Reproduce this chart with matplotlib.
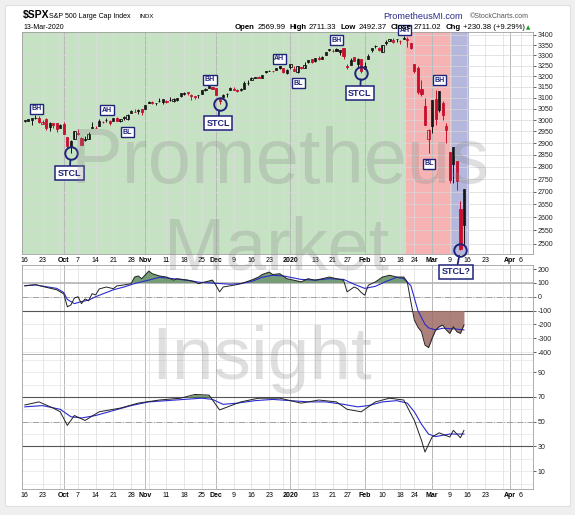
import numpy as np
import pandas as pd
import matplotlib
matplotlib.use("Agg")
import matplotlib.pyplot as plt
from matplotlib.patches import Rectangle
from matplotlib.ticker import NullLocator

plt.rcParams['font.family'] = ['Liberation Sans', 'DejaVu Sans']

# ---------------- data ----------------
start_date = '2019-09-16'
holidays = ['2019-11-28', '2019-12-25', '2020-01-01', '2020-01-20', '2020-02-17', '2020-04-10']

opens = [
    2996.41, 2995.67, 3001.50, 3010.36, 3008.42, 2983.50, 3002.43, 2968.35, 2985.73, 2985.47, 2967.07,
    2983.69, 2924.78, 2885.38, 2918.56, 2944.23, 2920.40, 2911.10, 2918.55, 2963.07, 2965.81, 2973.61, 2989.68,
    3000.77, 2996.84, 2996.48, 3010.73, 2994.01, 3014.78, 3003.32, 3032.12, 3035.39, 3039.74, 3046.90,
    3050.72, 3078.96, 3080.80, 3075.10, 3087.02, 3081.25, 3080.33, 3089.28, 3084.18, 3090.75, 3107.92, 3117.91,
    3127.45, 3114.66, 3108.49, 3111.41, 3117.44, 3134.85, 3145.49, 3147.18,
    3143.85, 3087.41, 3103.50, 3119.21, 3134.62, 3141.86, 3135.36, 3135.75, 3141.23, 3166.65, 3183.63, 3195.40,
    3195.21, 3192.32, 3223.33, 3226.05, 3225.45, 3227.20, 3247.23, 3240.09, 3215.18,
    3244.67, 3226.36, 3217.55, 3241.86, 3238.59, 3266.03, 3281.81, 3271.13, 3285.35, 3282.27, 3302.97, 3323.66,
    3321.03, 3330.02, 3315.77, 3333.10, 3247.16, 3255.35, 3289.46, 3256.45, 3282.33,
    3235.66, 3280.61, 3324.91, 3344.92, 3335.54, 3318.28, 3365.87, 3370.50, 3365.90, 3378.08, 3369.04, 3380.39,
    3380.39, 3360.50, 3257.61, 3238.94, 3139.90, 3062.54, 2916.90,
    2974.28, 3096.46, 3045.75, 3075.70, 2954.20, 2863.89, 2813.48, 2825.60, 2630.86, 2569.99]
highs = [
    3002.19, 3006.21, 3007.83, 3021.19, 3016.37, 2999.15, 3007.98, 2989.82, 2987.28, 2987.31, 2983.85,
    2992.53, 2924.78, 2911.13, 2953.74, 2959.75, 2925.47, 2929.32, 2948.46, 2993.28, 2972.84, 3003.28, 2997.54,
    3008.29, 3000.00, 3007.33, 3014.57, 3004.78, 3016.07, 3027.39, 3044.08, 3047.87, 3050.10, 3046.90,
    3066.95, 3085.20, 3083.95, 3078.34, 3097.77, 3093.09, 3088.33, 3102.61, 3098.06, 3098.20, 3120.46, 3124.17,
    3127.64, 3118.97, 3110.11, 3112.87, 3133.83, 3142.69, 3154.26, 3150.30,
    3144.31, 3094.97, 3119.38, 3119.45, 3150.60, 3148.87, 3142.12, 3143.98, 3176.28, 3182.68, 3197.71, 3198.22,
    3198.48, 3205.48, 3225.65, 3227.78, 3226.43, 3240.08, 3247.93, 3240.92, 3231.72,
    3258.14, 3246.15, 3246.84, 3244.91, 3267.07, 3275.58, 3282.99, 3288.13, 3294.25, 3298.66, 3317.11, 3329.88,
    3329.79, 3337.77, 3326.88, 3333.18, 3258.85, 3285.78, 3293.47, 3285.91, 3282.33,
    3268.44, 3306.92, 3337.58, 3347.96, 3341.42, 3352.26, 3375.63, 3381.47, 3385.09, 3380.69, 3375.01, 3393.52,
    3389.15, 3360.76, 3259.81, 3246.99, 3182.51, 3097.07, 2959.72,
    3090.96, 3136.72, 3130.97, 3083.04, 2985.93, 2863.89, 2882.59, 2825.60, 2660.95, 2711.33]
lows = [
    2990.67, 2993.73, 2978.57, 3003.16, 2984.68, 2982.23, 2957.73, 2952.86, 2963.71, 2945.53, 2967.07,
    2938.70, 2874.93, 2855.94, 2918.56, 2935.68, 2892.66, 2907.41, 2917.12, 2963.07, 2962.94, 2973.61, 2985.20,
    2991.79, 2976.31, 2995.35, 2995.04, 2991.21, 3000.42, 3001.94, 3032.12, 3034.81, 3025.96, 3023.19,
    3050.72, 3074.87, 3072.15, 3065.89, 3080.23, 3073.58, 3075.82, 3084.73, 3078.80, 3083.26, 3104.60, 3112.06,
    3113.47, 3091.41, 3094.55, 3099.26, 3117.44, 3131.00, 3143.41, 3139.34,
    3110.78, 3070.33, 3102.53, 3103.76, 3134.62, 3135.46, 3126.09, 3133.21, 3138.47, 3156.51, 3183.63, 3191.03,
    3191.14, 3192.32, 3216.03, 3222.30, 3220.51, 3227.20, 3234.37, 3216.57, 3212.03,
    3235.53, 3222.34, 3214.64, 3232.43, 3236.67, 3263.67, 3260.86, 3268.43, 3277.19, 3280.69, 3302.82, 3318.86,
    3316.61, 3320.04, 3301.87, 3281.53, 3234.50, 3253.22, 3271.89, 3242.80, 3214.68,
    3235.66, 3280.61, 3313.75, 3334.39, 3322.12, 3317.77, 3352.72, 3369.72, 3360.52, 3366.15, 3355.61, 3378.83,
    3341.02, 3328.45, 3214.65, 3118.77, 3108.99, 2977.39, 2855.84,
    2945.19, 2976.63, 3034.38, 2999.83, 2901.54, 2734.43, 2734.00, 2707.22, 2478.86, 2492.37]
closes = [
    2997.96, 3005.70, 3006.73, 3006.79, 2992.07, 2991.78, 2966.60, 2984.87, 2977.62, 2961.79, 2976.74,
    2940.25, 2887.61, 2910.63, 2952.01, 2938.79, 2893.06, 2919.40, 2938.13, 2970.27, 2966.15, 2995.68, 2989.69,
    2997.95, 2986.20, 3006.72, 2995.99, 3004.52, 3010.29, 3022.55, 3039.42, 3036.89, 3046.77, 3037.56,
    3066.91, 3078.27, 3074.62, 3076.78, 3085.18, 3093.08, 3087.01, 3091.84, 3094.04, 3096.63, 3120.46, 3122.03,
    3120.18, 3108.46, 3103.54, 3110.29, 3133.64, 3140.52, 3153.63, 3140.98,
    3113.87, 3093.20, 3112.76, 3117.43, 3145.91, 3135.96, 3132.52, 3141.63, 3168.57, 3168.80, 3191.45, 3192.52,
    3191.14, 3205.37, 3221.22, 3224.01, 3223.38, 3239.91, 3240.02, 3221.29, 3230.78,
    3257.85, 3234.85, 3246.28, 3237.18, 3253.05, 3274.70, 3265.35, 3288.13, 3283.15, 3289.29, 3316.81, 3329.62,
    3320.79, 3321.75, 3325.54, 3295.47, 3243.63, 3276.24, 3273.40, 3283.66, 3225.52,
    3248.92, 3297.59, 3334.69, 3345.78, 3327.71, 3352.09, 3357.75, 3379.45, 3373.94, 3380.16, 3370.29, 3386.15,
    3373.23, 3337.75, 3225.89, 3128.21, 3116.39, 2978.76, 2954.22,
    3090.23, 3003.37, 3130.12, 3023.94, 2972.37, 2746.56, 2882.23, 2741.38, 2480.64, 2711.02]

# CCI panel (black line and its blue signal): (trading-day index, value)
cci_idx = [0, 3, 6, 9, 11, 12, 13, 14, 15, 16, 17, 18, 19, 20, 21, 23, 25, 26, 28, 30, 31, 32, 33, 35, 36,
           38, 40, 42, 43, 46, 48, 49, 51, 53, 54, 55, 56, 59, 61, 64, 66, 67, 69, 70, 72, 74, 76, 78, 80,
           82, 84, 86, 88, 90, 91, 93, 94, 95, 96, 97, 99, 101, 103, 105, 107, 108, 109, 110, 111, 112, 113,
           114, 115, 116, 117, 118, 119, 120, 121, 122, 123, 124]
cci_val = [78, 87, 68, 50, 20, -73, -60, -10, 0, -50, -16, -30, 22, 13, 56, 70, 58, 78, 85, 94, 142, 150, 130,
           185, 166, 150, 142, 120, 130, 120, 107, 94, 107, 120, 80, 35, 70, 83, 94, 120, 142, 160, 178, 160,
           166, 130, 119, 107, 130, 119, 130, 142, 130, 119, 35, 70, 58, 30, 11, 83, 107, 142, 155, 142, 142,
           107, -37, -169, -220, -253, -349, -368, -301, -241, -217, -205, -240, -265, -217, -253, -265, -205]
cci_sig_idx = [0, 3, 9, 11, 12, 14, 16, 18, 20, 23, 25, 28, 31, 35, 38, 42, 47, 49, 52, 55, 58, 61, 64, 67,
               70, 73, 78, 82, 86, 90, 93, 96, 99, 102, 105, 107, 109, 111, 113, 114, 116, 118, 121, 124]
cci_sig_val = [80, 85, 60, 30, -20, -50, -35, -25, 0, 30, 50, 70, 95, 120, 140, 130, 115, 105, 100, 95, 90,
               95, 110, 140, 155, 150, 125, 120, 130, 125, 90, 60, 75, 110, 140, 130, 80, -100, -200, -225,
               -240, -228, -232, -240]

# lower oscillator panel
osc_idx = [0, 4, 8, 10, 12, 14, 17, 21, 27, 32, 38, 44, 48, 52, 55, 61, 66, 72, 78, 83, 88, 91, 95, 99, 103,
           107, 110, 112, 113, 115, 117, 120, 121, 123, 124]
osc_val = [63.5, 66, 61, 58, 47, 55, 51, 58, 61, 65, 67.5, 69, 72, 71.5, 59.5, 66, 69, 69, 65, 67.5, 66,
           60, 58, 66, 69, 67.5, 51, 35, 25.5, 37.6, 41, 37.6, 43, 37, 43]
osc_sig_idx = [0, 5, 10, 13, 16, 20, 25, 30, 35, 40, 45, 50, 53, 56, 60, 65, 70, 75, 80, 85, 90, 94, 97, 101,
               105, 108, 110, 112, 114, 116, 118, 120, 122, 124]
osc_sig_val = [62, 63, 60, 54, 53, 55, 59, 63, 66, 67, 68, 69, 68, 64, 65, 67, 68, 67, 66, 66, 64, 62, 63,
               66, 67, 65, 58, 48, 40, 38, 39, 40, 40, 40]

tick_dates = ['2019-09-16', '2019-09-23', '2019-10-01', '2019-10-07', '2019-10-14', '2019-10-21', '2019-10-28',
              '2019-11-01', '2019-11-11', '2019-11-18', '2019-11-25', '2019-12-02', '2019-12-09', '2019-12-16',
              '2019-12-23', '2020-01-02', '2020-01-13', '2020-01-21', '2020-01-27', '2020-02-03', '2020-02-10',
              '2020-02-18', '2020-02-24', '2020-03-02', '2020-03-09', '2020-03-16', '2020-03-23', '2020-04-01',
              '2020-04-06']
tick_labels = ['16', '23', 'Oct', '7', '14', '21', '28', 'Nov', '11', '18', '25', 'Dec', '9', '16', '23', '2020',
               '13', '21', '27', 'Feb', '10', '18', '24', 'Mar', '9', '16', '23', 'Apr', '6']
month_labels = {'Oct', 'Nov', 'Dec', '2020', 'Feb', 'Mar', 'Apr'}

price_ticks = list(range(2500, 3401, 50))
cci_ticks = [200, 100, 0, -100, -200, -300, -400]
osc_ticks = [90, 70, 50, 30, 10]

header_items = [('Open', True), ('2569.99', False), ('High', True), ('2711.33', False),
                ('Low', True), ('2492.37', False), ('Close', True), ('2711.02', False),
                ('Chg', True), ('+230.38 (+9.29%)', False)]

# annotations: (label, trading-day index, price)
tags = [('BH', 3.2, 3051), ('AH', 23.2, 3043), ('BL', 29.0, 2946), ('BH', 52.3, 3184), ('AH', 71.8, 3283),
        ('BL', 77.3, 3167), ('BH', 88.1, 3373), ('AH', 107.2, 3423), ('BH', 117.1, 3181), ('BL', 114.1, 2813)]
stcl = [('STCL', 13, 2855.94), ('STCL', 55, 3070.33), ('STCL', 95, 3214.68), ('STCL?', 123, 2478.86)]
stcl_off = [(-1, -14.4), (-1, -13.7), (-1, -14.4), (-3, -15.8)]

# ---------------- layout ----------------
W, H = 575, 515
cal = pd.offsets.CustomBusinessDay(holidays=holidays)
days = pd.date_range(start_date, '2020-04-20', freq=cal)
pos = {d.strftime('%Y-%m-%d'): i for i, d in enumerate(days)}
n = len(closes)
x = np.arange(n)

navy = '#1f247a'
fig = plt.figure(figsize=(W / 100, H / 100), dpi=100, facecolor='#efefef')
fig.patches.append(Rectangle((5 / W, 1 - 506 / H), 565 / W, 501 / H, transform=fig.transFigure,
                             facecolor='white', edgecolor='#e0e0e0', lw=0.8, zorder=-10))


def axrect(top, bottom):
    return [22 / W, 1 - bottom / H, 511 / W, (bottom - top) / H]


axp = fig.add_axes(axrect(32, 254))
axc = fig.add_axes(axrect(265, 354), sharex=axp)
axr = fig.add_axes(axrect(354, 489), sharex=axp)
axp.set_zorder(3)
axc.set_zorder(1)
axr.set_zorder(1)

xl = (-0.8, 143.5)
tick_pos = [pos[d] for d in tick_dates]

week_starts, month_starts = [], []
for i, d in enumerate(days):
    if i == 0:
        continue
    if d.weekday() < days[i - 1].weekday():
        week_starts.append(i)
    if d.month != days[i - 1].month:
        month_starts.append(i)

for ax in (axp, axc, axr):
    ax.set_xlim(*xl)
    ax.yaxis.tick_right()
    ax.tick_params(axis='y', labelsize=5, length=2, width=0.5, colors='#222222', pad=1.5)
    ax.tick_params(axis='x', length=0, labelsize=5, pad=2)
    for s in ax.spines.values():
        s.set_color('#a0a0a0')
        s.set_linewidth(0.6)
    for w in week_starts:
        ax.axvline(w, color='#dcdcdc', lw=0.5, zorder=1)
    for m in month_starts:
        ax.axvline(m, color='#b8b8b8', lw=0.7, zorder=1)

# ---- price panel ----
axp.set_yscale('log')
axp.set_ylim(2463, 3415)
axp.yaxis.set_minor_locator(NullLocator())
axp.set_yticks(price_ticks)
axp.set_yticklabels([str(t) for t in price_ticks])
for t in price_ticks:
    axp.axhline(t, color='#d8d8d8', lw=0.5, zorder=1)
axp.axvspan(xl[0], 107.5, color='#c5e3c2', zorder=0, lw=0)
axp.axvspan(107.5, 120.5, color='#f7b3b3', zorder=0, lw=0)
axp.axvspan(120.5, 125.5, color='#b5b7dc', zorder=0, lw=0)

o = np.array(opens); h = np.array(highs); l = np.array(lows); c = np.array(closes)
prev = np.concatenate([[c[0] - 1], c[:-1]])
cols = np.where(c < prev, '#c8102e', '#111111')
filled = c < o
axp.vlines(x, l, h, colors=cols, lw=0.7, zorder=3)
for i in range(n):
    lo, hi = min(o[i], c[i]), max(o[i], c[i])
    if hi - lo < 0.8:
        hi = lo + 0.8
    axp.bar(x[i], hi - lo, bottom=lo, width=0.62,
            facecolor=cols[i] if filled[i] else 'none',
            edgecolor=cols[i], lw=0.6, zorder=4)

axp.set_xticks(tick_pos)
axp.set_xticklabels(tick_labels)
for lab in axp.get_xticklabels():
    if lab.get_text() in month_labels:
        lab.set_fontweight('bold')

for s, xi, yi in tags:
    axp.text(xi, yi, s, ha='center', va='center', fontsize=5, color=navy, fontweight='bold',
             bbox=dict(boxstyle='square,pad=0.22', fc='white', ec=navy, lw=1.0), zorder=7, clip_on=False)
for (s, xi, yi), (dx, dy) in zip(stcl, stcl_off):
    axp.plot([xi], [yi], 'o', ms=9, mfc='none', mec=navy, mew=1.4, zorder=7, clip_on=False)
    axp.annotate(s, xy=(xi, yi), xytext=(dx, dy), textcoords='offset points', ha='center', va='center',
                 fontsize=6.5, color=navy, fontweight='bold', zorder=7, annotation_clip=False,
                 bbox=dict(boxstyle='square,pad=0.28', fc='white', ec=navy, lw=1.1),
                 arrowprops=dict(arrowstyle='-', color=navy, lw=1.3, shrinkA=0, shrinkB=4.5))

# ---- CCI panel ----
axc.set_ylim(-414, 229)
axc.set_yticks(cci_ticks)
axc.set_yticklabels([str(t) for t in cci_ticks])
for t in cci_ticks:
    axc.axhline(t, color='#e2e2e2', lw=0.5, zorder=1)
axc.axhline(100, color='#b0b0b0', lw=1.1, zorder=2)
axc.axhline(0, color='#a0a0a0', lw=0.7, ls='-.', zorder=2)
axc.axhline(-100, color='#555555', lw=0.8, zorder=2)
ci = np.array(cci_idx); cv = np.array(cci_val, dtype=float)
axc.fill_between(ci, cv, 100, where=cv > 100, interpolate=True, color='#5e8c5e', alpha=0.85, lw=0, zorder=3)
axc.fill_between(ci, cv, -100, where=cv < -100, interpolate=True, color='#9e6a64', alpha=0.85, lw=0, zorder=3)
axc.plot(cci_sig_idx, cci_sig_val, color='#2b2bd0', lw=0.8, zorder=4)
axc.plot(ci, cv, color='#222222', lw=0.7, zorder=5)
axc.tick_params(axis='x', labelbottom=False)

# ---- lower oscillator ----
axr.set_ylim(-4.4, 104.7)
axr.set_yticks(osc_ticks)
axr.set_yticklabels([str(t) for t in osc_ticks])
for t in range(0, 101, 10):
    axr.axhline(t, color='#e4e4e4', lw=0.5, zorder=1)
axr.axhline(70, color='#555555', lw=0.8, zorder=2)
axr.axhline(30, color='#555555', lw=0.8, zorder=2)
axr.axhline(50, color='#a0a0a0', lw=0.7, ls='-.', zorder=2)
oi = np.array(osc_idx); ov = np.array(osc_val, dtype=float)
axr.fill_between(oi, ov, 70, where=ov > 70, interpolate=True, color='#5e8c5e', alpha=0.85, lw=0, zorder=3)
axr.plot(osc_sig_idx, osc_sig_val, color='#2b2bd0', lw=0.8, zorder=4)
axr.plot(oi, ov, color='#222222', lw=0.7, zorder=5)
axr.tick_params(axis='x', labelbottom=True)
for lab in axr.get_xticklabels():
    if lab.get_text() in month_labels:
        lab.set_fontweight('bold')


# ---- header text ----
def ft(px, py, s, **kw):
    return fig.text(px / W, 1 - py / H, s, **kw)


ft(23, 18, r'\$SPX', fontsize=7.5, fontweight='bold', va='baseline')
ft(49, 18, 'S&P 500 Large Cap Index', fontsize=5, va='baseline')
ft(140, 18, 'INDX', fontsize=4.3, va='baseline')
ft(23, 29, '13-Mar-2020', fontsize=5, va='baseline')
ft(383, 19, 'PrometheusMI.com', fontsize=6.6, color='#2b2b8c', va='baseline')
ft(470, 18, '©StockCharts.com', fontsize=5, color='#555555', va='baseline')

# sequential header line laid out between x=235 and x=525
fig.canvas.draw()
rend = fig.canvas.get_renderer()
hfs = 5.4
objs = [ft(0, 29, s, fontsize=hfs, fontweight='bold' if b else 'normal', va='baseline') for s, b in header_items]
widths = [t.get_window_extent(rend).width for t in objs]
gaps = [2.5 if b else 3.5 for _, b in header_items][:-1]
total = sum(widths) + sum(gaps)
scale = (525 - 235) / total
cx = 235.0
for k, t in enumerate(objs):
    t.set_fontsize(hfs * scale)
    t.set_x(cx / W)
    cx += widths[k] * scale + (gaps[k] * scale if k < len(gaps) else 0)
ft(526, 29, '▲', fontsize=4, color='#1a9a1a', va='baseline', family='DejaVu Sans')

# ---- watermark ----
for s, px, py, fs in [('Prometheus', 280, 163, 56), ('Market', 277, 250, 53), ('Insight', 262, 360, 54)]:
    ft(px, py, s, fontsize=fs, color='#8a8a8a', alpha=0.27, ha='center', va='center', zorder=10)

fig.savefig('out.png', dpi=100, facecolor=fig.get_facecolor())
